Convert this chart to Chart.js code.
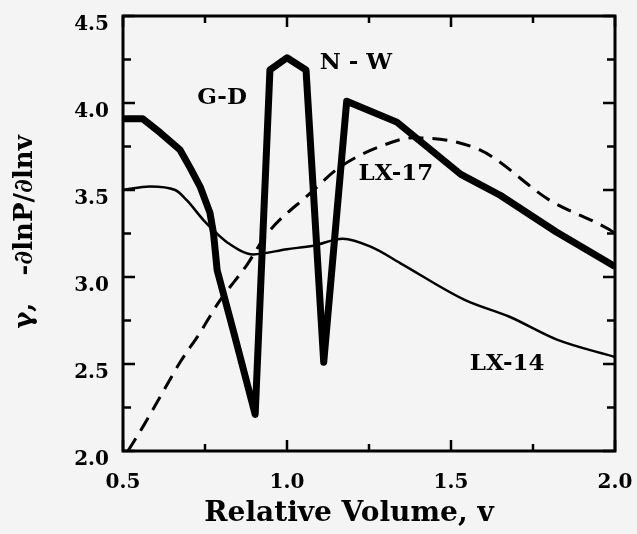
<!DOCTYPE html>
<html>
<head>
<meta charset="utf-8">
<script src="https://cdn.jsdelivr.net/npm/chart.js@4.4.1/dist/chart.umd.min.js"></script>
<style>
  html, body { margin: 0; padding: 0; background: #f4f4f4; }
  #wrap { width: 637px; height: 534px; position: relative; }
</style>
</head>
<body>
<div id="wrap"><canvas id="gammaChart"></canvas></div>
<script>
// G-D / N-W (thick line)
const gdNwV     = [0.5, 0.56, 0.613, 0.674, 0.704, 0.735, 0.765, 0.776, 0.787, 0.835, 0.903, 0.948, 1.0, 1.058, 1.112, 1.182, 1.335, 1.53, 1.65, 1.82, 2.0];
const gdNwGamma = [3.91, 3.91, 3.83, 3.73, 3.63, 3.52, 3.37, 3.25, 3.04, 2.70, 2.21, 4.19, 4.26, 4.19, 2.51, 4.01, 3.89, 3.59, 3.47, 3.26, 3.06];

// LX-14 (thin line)
const lx14V     = [0.5, 0.582, 0.659, 0.695, 0.744, 0.775, 0.817, 0.897, 1.0, 1.08, 1.17, 1.26, 1.345, 1.54, 1.68, 1.823, 2.0];
const lx14Gamma = [3.50, 3.52, 3.50, 3.44, 3.33, 3.27, 3.20, 3.13, 3.16, 3.18, 3.22, 3.17, 3.08, 2.87, 2.77, 2.64, 2.54];

// LX-17 (dashed line)
const lx17V     = [0.515, 0.561, 0.613, 0.674, 0.735, 0.79, 0.878, 0.94, 1.07, 1.16, 1.284, 1.387, 1.588, 1.802, 1.985, 2.0];
const lx17Gamma = [2.00, 2.14, 2.31, 2.51, 2.68, 2.85, 3.07, 3.25, 3.48, 3.63, 3.75, 3.80, 3.73, 3.44, 3.27, 3.25];

const curveNames = ['G-D', 'N - W', 'LX-17', 'LX-14'];

const xTickValues = [0.5, 1.0, 1.5, 2.0];
const yTickValues = [2.0, 2.5, 3.0, 3.5, 4.0, 4.5];

const xTitle = 'Relative Volume, v';
const yTitle = '\u03B3,   -\u2202lnP/\u2202lnv';

const serif = "'DejaVu Serif', 'Liberation Serif', serif";
const ink = '#000000';

function toPoints(xs, ys) {
    return xs.map((x, i) => ({ x: x, y: ys[i] }));
}

// where the curve names sit (data coords)
const nameSpots = [
    { v: 0.802, g: 4.03 },
    { v: 1.21,  g: 4.23 },
    { v: 1.332, g: 3.59 },
    { v: 1.671, g: 2.50 }
];

// frame, inward ticks, curve names and axis titles
const framePlugin = {
    id: 'frame',
    afterDatasetsDraw(chart) {
        const { ctx, chartArea: a, scales } = chart;
        const xs = scales.x, ys = scales.y;
        ctx.save();
        ctx.strokeStyle = ink;
        ctx.lineWidth = 3;
        ctx.strokeRect(a.left, a.top, a.right - a.left, a.bottom - a.top);

        ctx.lineWidth = 2.5;
        for (let v = 0.5; v <= 2.0001; v += 0.25) {
            const px = xs.getPixelForValue(v);
            const len = Math.abs(v * 2 - Math.round(v * 2)) < 0.01 ? 11 : 7;
            ctx.beginPath();
            ctx.moveTo(px, a.bottom); ctx.lineTo(px, a.bottom - len);
            ctx.moveTo(px, a.top); ctx.lineTo(px, a.top + len);
            ctx.stroke();
        }
        for (let g = 2.0; g <= 4.5001; g += 0.25) {
            const py = ys.getPixelForValue(g);
            const len = Math.abs(g * 2 - Math.round(g * 2)) < 0.01 ? 12 : 8;
            ctx.beginPath();
            ctx.moveTo(a.left, py); ctx.lineTo(a.left + len, py);
            ctx.moveTo(a.right, py); ctx.lineTo(a.right - len, py);
            ctx.stroke();
        }

        ctx.fillStyle = ink;
        ctx.font = 'bold 23px ' + serif;
        ctx.textAlign = 'center';
        ctx.textBaseline = 'middle';
        curveNames.forEach((name, i) => {
            ctx.fillText(name, xs.getPixelForValue(nameSpots[i].v), ys.getPixelForValue(nameSpots[i].g));
        });

        ctx.font = 'bold 28px ' + serif;
        ctx.fillText(xTitle, 349, 514);

        ctx.translate(25, 232);
        ctx.rotate(-Math.PI / 2);
        ctx.font = 'bold 26px ' + serif;
        ctx.fillText(yTitle, 0, 0);
        ctx.restore();
    }
};

const chart = new Chart(document.getElementById('gammaChart'), {
    type: 'line',
    data: {
        datasets: [
            {
                label: 'G-D / N-W',
                data: toPoints(gdNwV, gdNwGamma),
                borderColor: ink,
                borderWidth: 7,
                borderJoinStyle: 'round',
                pointRadius: 0,
                tension: 0
            },
            {
                label: 'LX-14',
                data: toPoints(lx14V, lx14Gamma),
                borderColor: ink,
                borderWidth: 2.5,
                pointRadius: 0,
                cubicInterpolationMode: 'monotone'
            },
            {
                label: 'LX-17',
                data: toPoints(lx17V, lx17Gamma),
                borderColor: ink,
                borderWidth: 3,
                borderDash: [15, 9],
                pointRadius: 0,
                cubicInterpolationMode: 'monotone'
            }
        ]
    },
    options: {
        responsive: true,
        maintainAspectRatio: false,
        animation: false,
        layout: { padding: { left: 0, right: 22, top: 16, bottom: 0 } },
        plugins: {
            legend: { display: false },
            tooltip: { enabled: false }
        },
        scales: {
            x: {
                type: 'linear',
                min: 0.5,
                max: 2.0,
                afterBuildTicks: (s) => { s.ticks = xTickValues.map(v => ({ value: v })); },
                afterFit: (s) => { s.height = 83; s.paddingLeft = 0; s.paddingRight = 0; },
                border: { display: false },
                grid: { display: false, drawTicks: false },
                ticks: {
                    color: ink,
                    padding: 20,
                    font: { family: serif, size: 20, weight: 'bold' },
                    callback: (v) => v.toFixed(1)
                }
            },
            y: {
                type: 'linear',
                min: 2.0,
                max: 4.5,
                afterBuildTicks: (s) => { s.ticks = yTickValues.map(v => ({ value: v })); },
                afterFit: (s) => { s.width = 123; s.paddingTop = 0; s.paddingBottom = 0; },
                border: { display: false },
                grid: { display: false, drawTicks: false },
                ticks: {
                    color: ink,
                    padding: 14,
                    labelOffset: 9,
                    font: { family: serif, size: 20, weight: 'bold' },
                    callback: (v) => v.toFixed(1)
                }
            }
        }
    },
    plugins: [framePlugin]
});
</script>
</body>
</html>
